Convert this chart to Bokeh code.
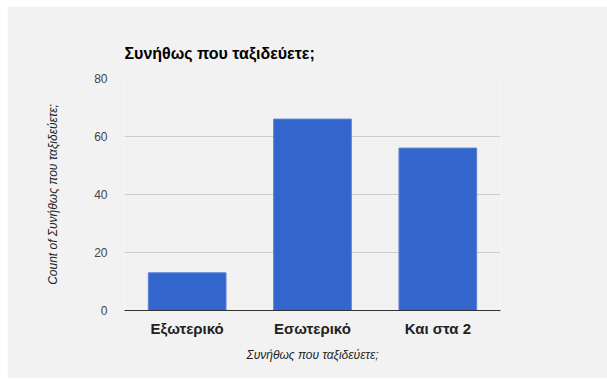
from bokeh.plotting import figure
from bokeh.embed import file_html
from bokeh.resources import INLINE
from bokeh.models import FixedTicker

categories = ["Εξωτερικό", "Εσωτερικό", "Και στα 2"]
counts = [13, 66, 56]
y_ticks = [0, 20, 40, 60, 80]

title_text = "Συνήθως που ταξιδεύετε;"
x_title = "Συνήθως που ταξιδεύετε;"
y_title = "Count of Συνήθως που ταξιδεύετε;"

FONT = "Liberation Sans"
BG = "#f2f2f2"

p = figure(
    x_range=categories, y_range=(0, 80),
    width=600, height=372,
    output_backend="svg", toolbar_location=None,
    title=title_text,
    min_border_left=117, min_border_right=107,
    min_border_top=72, min_border_bottom=68,
)
p.margin = (6, 0, 1, 7)
p.frame_width = 376
p.frame_height = 232
p.background_fill_color = BG
p.border_fill_color = BG
p.outline_line_color = None

p.title.text_font = FONT
p.title.text_font_size = "16px"
p.title.text_font_style = "bold"
p.title.text_color = "#000000"
p.title.background_fill_color = BG
p.title.offset = 0
p.title.standoff = 33

p.vbar(x=categories, top=counts, width=0.62, fill_color="#3366cc",
       line_color="#5b82d6", line_width=1)

p.xgrid.grid_line_color = None
p.ygrid.grid_line_color = "#cccccc"
p.ygrid.grid_line_width = 1

p.yaxis.ticker = FixedTicker(ticks=y_ticks)
p.yaxis.axis_line_color = None
p.yaxis.major_tick_line_color = None
p.yaxis.minor_tick_line_color = None
p.yaxis.major_label_text_font = FONT
p.yaxis.major_label_text_font_size = "12px"
p.yaxis.major_label_text_color = "#444444"
p.yaxis.major_label_standoff = 11
p.yaxis.axis_label = y_title
p.yaxis.axis_label_text_font = FONT
p.yaxis.axis_label_text_font_size = "12px"
p.yaxis.axis_label_text_font_style = "italic"
p.yaxis.axis_label_text_color = "#222222"
p.yaxis.axis_label_standoff = 31

p.xaxis.axis_line_color = "#333333"
p.xaxis.axis_line_width = 1
p.xaxis.major_tick_line_color = None
p.xaxis.minor_tick_line_color = None
p.xaxis.major_label_text_font = FONT
p.xaxis.major_label_text_font_size = "15px"
p.xaxis.major_label_text_font_style = "bold"
p.xaxis.major_label_text_color = "#222222"
p.xaxis.major_label_standoff = 3
p.xaxis.axis_label = x_title
p.xaxis.axis_label_text_font = FONT
p.xaxis.axis_label_text_font_size = "12px"
p.xaxis.axis_label_text_font_style = "italic"
p.xaxis.axis_label_text_color = "#222222"
p.xaxis.axis_label_standoff = 8

open("out.html", "w").write(file_html(p, INLINE))
